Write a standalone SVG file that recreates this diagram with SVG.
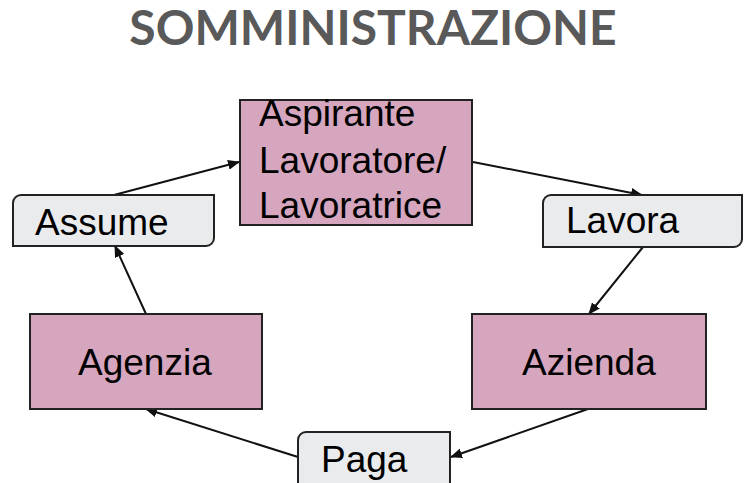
<svg xmlns="http://www.w3.org/2000/svg" width="744" height="483" viewBox="0 0 744 483">
<defs>
<style>
.pink{fill:#d5a6bd;stroke:#222;stroke-width:2}
.light{fill:#e9ebec;stroke:#222;stroke-width:2}
.lbl{font-family:"Liberation Sans",Arial,sans-serif;font-size:37px;fill:#000}
.title{font-family:Lato,"Liberation Sans",sans-serif;font-weight:bold;font-size:48px;fill:#595959}
.conn{stroke:#111;stroke-width:2;fill:none;marker-end:url(#ah)}
</style>
<marker id="ah" markerWidth="12" markerHeight="10" refX="11" refY="5" orient="auto" markerUnits="userSpaceOnUse">
<path d="M0,0 L12,5 L0,10 Z" fill="#111"/>
</marker>
</defs>
<rect width="744" height="483" fill="#fff"/>
<text class="title" x="373" y="45" text-anchor="middle">SOMMINISTRAZIONE</text>
<g id="connectors">
<line class="conn" x1="114" y1="195" x2="239" y2="162"/>
<line class="conn" x1="473" y1="162" x2="642" y2="195"/>
<line class="conn" x1="643" y1="247" x2="589" y2="314"/>
<line class="conn" x1="588" y1="409" x2="451" y2="457"/>
<line class="conn" x1="298" y1="457" x2="146" y2="409"/>
<line class="conn" x1="146" y1="314" x2="115" y2="246"/>
</g>
<g id="aspirante">
<rect class="pink" x="240" y="100" width="232" height="125"/>
<text class="lbl" x="259" y="126">Aspirante</text>
<text class="lbl" x="259" y="173">Lavoratore/</text>
<text class="lbl" x="259" y="218">Lavoratrice</text>
</g>
<g id="assume">
<path class="light" d="M13,203 A8,8 0 0 1 21,195 H214 V238 A8,8 0 0 1 206,246 H13 Z"/>
<text class="lbl" x="35" y="235">Assume</text>
</g>
<g id="lavora">
<path class="light" d="M543,203 A8,8 0 0 1 551,195 H742 V239 A8,8 0 0 1 734,247 H543 Z"/>
<text class="lbl" x="566" y="233">Lavora</text>
</g>
<g id="agenzia">
<rect class="pink" x="30" y="314" width="232" height="95"/>
<text class="lbl" x="78" y="375">Agenzia</text>
</g>
<g id="azienda">
<rect class="pink" x="472" y="314" width="234" height="95"/>
<text class="lbl" x="522" y="375">Azienda</text>
</g>
<g id="paga">
<path class="light" d="M298,440 A8,8 0 0 1 306,432 H450 V482 A8,8 0 0 1 442,490 H298 Z"/>
<text class="lbl" x="321" y="472">Paga</text>
</g>
</svg>
